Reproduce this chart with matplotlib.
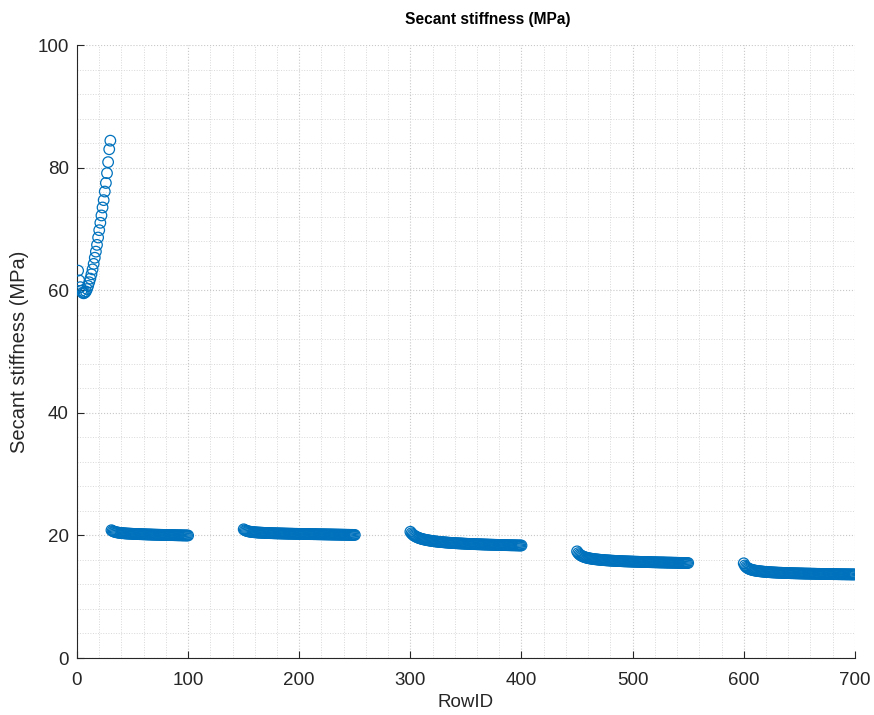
import numpy as np
import matplotlib.pyplot as plt
from matplotlib.ticker import MultipleLocator

plt.rcParams["font.family"] = ["Liberation Sans", "DejaVu Sans"]

# first loading branch, rows 1..30
rows_a = (1, 30)
stiff_a = [
    63.2, 61.6, 60.5, 59.9, 59.6, 59.5, 59.6, 59.8, 60.2, 60.7,
    61.3, 61.9, 62.6, 63.4, 64.3, 65.3, 66.3, 67.4, 68.6, 69.8,
    71.0, 72.2, 73.5, 74.7, 76.1, 77.5, 79.1, 80.9, 83.0, 84.4,
]

# rows 31..100
rows_b = (31, 100)
stiff_b = [
    20.85, 20.72, 20.64, 20.58, 20.53, 20.49, 20.46, 20.43, 20.41, 20.39,
    20.37, 20.35, 20.34, 20.32, 20.31, 20.30, 20.29, 20.28, 20.27, 20.26,
    20.25, 20.24, 20.23, 20.23, 20.22, 20.21, 20.20, 20.20, 20.19, 20.18,
    20.18, 20.17, 20.16, 20.16, 20.15, 20.15, 20.14, 20.13, 20.13, 20.12,
    20.12, 20.11, 20.11, 20.10, 20.10, 20.09, 20.09, 20.08, 20.08, 20.07,
    20.07, 20.06, 20.06, 20.05, 20.05, 20.05, 20.04, 20.04, 20.03, 20.03,
    20.02, 20.02, 20.02, 20.01, 20.01, 20.00, 20.00, 20.00, 19.99, 19.99,
]

# rows 150..250
rows_c = (150, 250)
stiff_c = [
    21.00, 20.86, 20.78, 20.72, 20.67, 20.63, 20.60, 20.57, 20.55, 20.53,
    20.51, 20.50, 20.48, 20.47, 20.46, 20.45, 20.44, 20.43, 20.42, 20.41,
    20.40, 20.39, 20.39, 20.38, 20.37, 20.37, 20.36, 20.35, 20.35, 20.34,
    20.34, 20.33, 20.33, 20.32, 20.32, 20.31, 20.31, 20.30, 20.30, 20.29,
    20.29, 20.28, 20.28, 20.28, 20.27, 20.27, 20.26, 20.26, 20.26, 20.25,
    20.25, 20.24, 20.24, 20.24, 20.23, 20.23, 20.23, 20.22, 20.22, 20.22,
    20.21, 20.21, 20.21, 20.20, 20.20, 20.20, 20.19, 20.19, 20.19, 20.18,
    20.18, 20.18, 20.17, 20.17, 20.17, 20.16, 20.16, 20.16, 20.15, 20.15,
    20.15, 20.14, 20.14, 20.14, 20.13, 20.13, 20.13, 20.12, 20.12, 20.12,
    20.11, 20.11, 20.11, 20.10, 20.10, 20.10, 20.09, 20.09, 20.09, 20.08,
    20.08,
]

# rows 300..400
rows_d = (300, 400)
stiff_d = [
    20.60, 20.35, 20.17, 20.02, 19.90, 19.80, 19.71, 19.63, 19.56, 19.50,
    19.44, 19.39, 19.35, 19.31, 19.27, 19.23, 19.20, 19.17, 19.14, 19.11,
    19.08, 19.06, 19.03, 19.01, 18.99, 18.97, 18.95, 18.93, 18.91, 18.90,
    18.88, 18.86, 18.85, 18.83, 18.82, 18.80, 18.79, 18.78, 18.76, 18.75,
    18.74, 18.73, 18.72, 18.71, 18.70, 18.69, 18.68, 18.67, 18.66, 18.65,
    18.64, 18.63, 18.62, 18.62, 18.61, 18.60, 18.59, 18.58, 18.58, 18.57,
    18.56, 18.56, 18.55, 18.54, 18.54, 18.53, 18.52, 18.52, 18.51, 18.51,
    18.50, 18.49, 18.49, 18.48, 18.48, 18.47, 18.47, 18.46, 18.46, 18.45,
    18.45, 18.44, 18.44, 18.43, 18.43, 18.42, 18.42, 18.41, 18.41, 18.40,
    18.40, 18.39, 18.39, 18.39, 18.38, 18.38, 18.37, 18.37, 18.36, 18.36,
    18.36,
]

# rows 450..550
rows_e = (450, 550)
stiff_e = [
    17.40, 17.12, 16.93, 16.79, 16.68, 16.59, 16.51, 16.45, 16.39, 16.34,
    16.30, 16.26, 16.23, 16.20, 16.17, 16.14, 16.12, 16.10, 16.08, 16.06,
    16.04, 16.02, 16.00, 15.99, 15.97, 15.96, 15.94, 15.93, 15.92, 15.91,
    15.89, 15.88, 15.87, 15.86, 15.85, 15.84, 15.83, 15.82, 15.81, 15.81,
    15.80, 15.79, 15.78, 15.77, 15.77, 15.76, 15.75, 15.75, 15.74, 15.73,
    15.73, 15.72, 15.71, 15.71, 15.70, 15.70, 15.69, 15.68, 15.68, 15.67,
    15.67, 15.66, 15.66, 15.65, 15.65, 15.64, 15.64, 15.63, 15.63, 15.62,
    15.62, 15.61, 15.61, 15.60, 15.60, 15.59, 15.59, 15.59, 15.58, 15.58,
    15.57, 15.57, 15.56, 15.56, 15.56, 15.55, 15.55, 15.54, 15.54, 15.54,
    15.53, 15.53, 15.52, 15.52, 15.52, 15.51, 15.51, 15.51, 15.50, 15.50,
    15.50,
]

# rows 600..700
rows_f = (600, 700)
stiff_f = [
    15.45, 15.10, 14.88, 14.73, 14.62, 14.53, 14.46, 14.40, 14.35, 14.31,
    14.27, 14.24, 14.21, 14.18, 14.16, 14.14, 14.12, 14.10, 14.08, 14.06,
    14.05, 14.03, 14.02, 14.01, 13.99, 13.98, 13.97, 13.96, 13.95, 13.94,
    13.93, 13.92, 13.91, 13.91, 13.90, 13.89, 13.88, 13.88, 13.87, 13.86,
    13.86, 13.85, 13.84, 13.84, 13.83, 13.83, 13.82, 13.82, 13.81, 13.81,
    13.80, 13.80, 13.79, 13.79, 13.78, 13.78, 13.77, 13.77, 13.77, 13.76,
    13.76, 13.75, 13.75, 13.75, 13.74, 13.74, 13.73, 13.73, 13.73, 13.72,
    13.72, 13.72, 13.71, 13.71, 13.71, 13.70, 13.70, 13.70, 13.69, 13.69,
    13.69, 13.68, 13.68, 13.68, 13.68, 13.67, 13.67, 13.67, 13.66, 13.66,
    13.66, 13.66, 13.65, 13.65, 13.65, 13.65, 13.64, 13.64, 13.64, 13.64,
    13.63,
]

segments = [
    (rows_a, stiff_a),
    (rows_b, stiff_b),
    (rows_c, stiff_c),
    (rows_d, stiff_d),
    (rows_e, stiff_e),
    (rows_f, stiff_f),
]

row_id = np.concatenate([np.arange(r[0], r[1] + 1) for r, _ in segments])
secant = np.concatenate([np.asarray(s, float) for _, s in segments])

axcol = "#262626"
fig = plt.figure(figsize=(8.74, 7.15), dpi=100)
ax = fig.add_axes([0.0881, 0.0797, 0.8900, 0.8573])

ax.scatter(row_id, secant, s=58, facecolors="none", edgecolors="#0072BD",
           linewidths=0.9, zorder=3)

ax.set_xlim(0, 700)
ax.set_ylim(0, 100)
ax.xaxis.set_major_locator(MultipleLocator(100))
ax.xaxis.set_minor_locator(MultipleLocator(20))
ax.yaxis.set_major_locator(MultipleLocator(20))
ax.yaxis.set_minor_locator(MultipleLocator(4))

ax.grid(which="major", color="#c8c8c8", linestyle=":", linewidth=0.8)
ax.grid(which="minor", color="#d8d8d8", linestyle=":", linewidth=0.7)
ax.set_axisbelow(True)

for side in ("top", "right"):
    ax.spines[side].set_visible(False)
for side in ("left", "bottom"):
    ax.spines[side].set_color(axcol)
    ax.spines[side].set_linewidth(0.8)

ax.tick_params(which="major", direction="in", length=5, width=0.8,
               color=axcol, labelcolor=axcol, labelsize=13.5)
ax.tick_params(axis="x", which="major", pad=10)
ax.tick_params(axis="y", which="major", pad=6)
ax.tick_params(which="minor", length=0)

ax.set_xlabel("RowID", fontsize=13.5, color=axcol, labelpad=4)
ax.set_ylabel("Secant stiffness (MPa)", fontsize=14.5, color=axcol, labelpad=6)
ax.set_title("Secant stiffness (MPa)", fontsize=11.2, fontweight="bold",
             color="black", x=0.528, pad=15)

fig.savefig("out.png", dpi=100, facecolor="white")
